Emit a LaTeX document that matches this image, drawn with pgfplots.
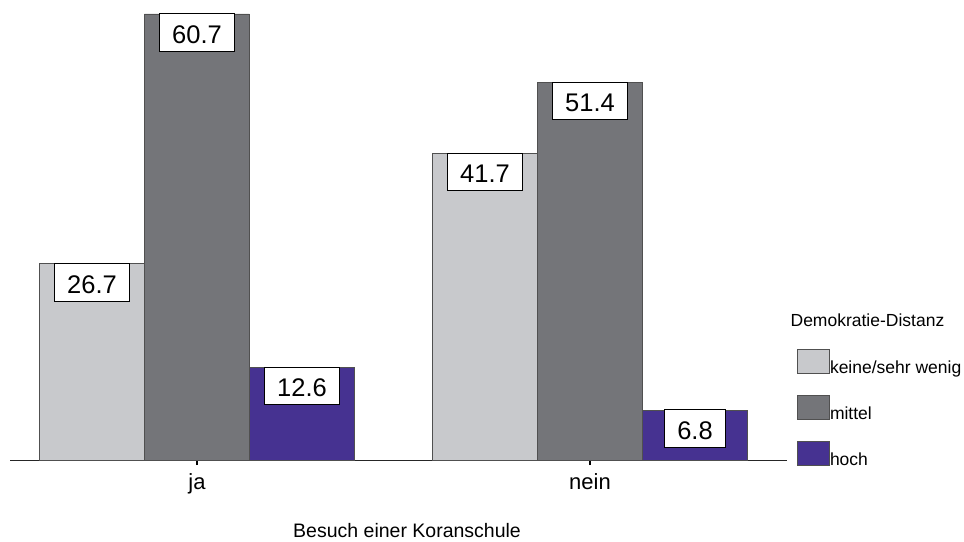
\documentclass[border=0pt]{standalone}
\usepackage{fontspec}
\setmainfont{Liberation Sans}
\usepackage{pgfplots}
\pgfplotsset{compat=1.18}
\definecolor{lightbar}{RGB}{200,201,204}
\definecolor{darkbar}{RGB}{116,117,121}
\definecolor{purplebar}{RGB}{70,50,145}
\definecolor{edge}{RGB}{80,80,80}
\pgfplotsset{
  boxlegend/.style={legend image code/.code={\draw[##1,draw=edge,line width=0.8pt] (0pt,-12pt) rectangle (32pt,12pt);}},
  every non boxed x axis/.append style={xtick align=outside},
}
\begin{document}
\begin{tikzpicture}
\path[use as bounding box] (-10pt,-81pt) rectangle (954pt,460pt);
\begin{axis}[
  at={(0,0)}, anchor=south west,
  scale only axis, width=777pt, height=460pt,
  ybar=0pt, bar width=105pt,
  xmin=-0.4758, xmax=1.5013,
  ymin=0, ymax=62.6,
  axis x line=bottom, axis y line=none,
  x axis line style={-, line width=1pt, black!85},
  xtick={0,1}, xticklabels={ja,nein},
  xtick pos=bottom, xtick align=outside, major tick length=5pt,
  xtick style={line width=2.5pt, black},
  xticklabel style={anchor=north, inner sep=0pt, text height=16pt, text depth=5pt, yshift=-8pt, font=\fontsize{22}{22}\selectfont},
  xlabel={Besuch einer Koranschule},
  xlabel style={at={(axis description cs:0.511,0)}, anchor=base, yshift=-77pt, font=\fontsize{19.5}{19.5}\selectfont},
  ytick=\empty,
  clip=false,
  point meta=explicit symbolic,
  nodes near coords,
  every node near coord/.append style={font=\fontsize{25.5}{25.5}\selectfont, fill=white, draw=black, line width=0.7pt, inner xsep=12.7pt, inner ysep=0pt, text height=29.7pt, text depth=7.7pt, yshift=-37.4pt},
  legend cell align=left,
  legend style={at={(rel axis cs:1.01287,0.2413)}, anchor=north west, draw=none, fill=none, inner sep=0pt, row sep=21pt, font=\fontsize{17.5}{17.5}\selectfont, nodes={inner sep=0pt, text height=24pt, text depth=0pt}},
]
\addplot[fill=lightbar, draw=edge, line width=0.8pt, boxlegend] coordinates {(0,26.7) [26.7] (1,41.7) [41.7]};
\addplot[fill=darkbar, draw=edge, line width=0.8pt, boxlegend] coordinates {(0,60.7) [60.7] (1,51.4) [51.4]};
\addplot[fill=purplebar, draw=edge, line width=0.8pt, boxlegend] coordinates {(0,12.6) [12.6] (1,6.8) [6.8]};
\legend{keine/sehr wenig, mittel, hoch}
\node[anchor=base west, inner sep=0pt, font=\fontsize{17.5}{17.5}\selectfont] at (rel axis cs:1.0044,0.2898) {Demokratie-Distanz};
\end{axis}
\end{tikzpicture}
\end{document}
